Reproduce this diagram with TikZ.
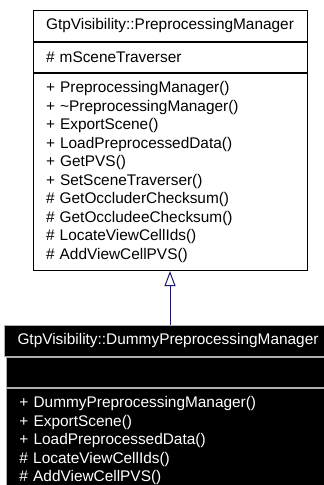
\documentclass[tikz,border=0pt]{standalone}
\usepackage{fontspec}
\setmainfont{Liberation Sans}
\usetikzlibrary{positioning, arrows.meta}
\definecolor{EdgeBlue}{RGB}{25, 25, 112}
\definecolor{RuleGray}{RGB}{175, 175, 175}

\begin{document}
\begin{tikzpicture}[x=1pt, y=-1pt,
    font=\fontsize{15.4}{18.5}\selectfont,
    umlbox/.style={draw, line width=1pt, inner xsep=13pt, inner ysep=0pt},
    basebox/.style={umlbox, fill=white, minimum width=274pt},
    subbox/.style={umlbox, draw=RuleGray, fill=black, text=white, minimum width=323pt},
    basemembers/.style={basebox, align=left, text width=248pt},
    submembers/.style={subbox, align=left, text width=297pt}]
  \useasboundingbox (0,0) rectangle (324,485);
  % Base class
  \node[basebox, anchor=north, minimum height=31pt] (base title) at (170,10)
    {GtpVisibility::PreprocessingManager};
  \node[basemembers, minimum height=30pt, below=0pt of base title] (base attrs)
    {\# mSceneTraverser};
  \node[basemembers, minimum height=197pt, below=0pt of base attrs] (base methods)
    {+ PreprocessingManager()\\
     + \textasciitilde PreprocessingManager()\\
     + ExportScene()\\
     + LoadPreprocessedData()\\
     + GetPVS()\\
     + SetSceneTraverser()\\
     \# GetOccluderChecksum()\\
     \# GetOccludeeChecksum()\\
     \# LocateViewCellIds()\\
     \# AddViewCellPVS()};
  % Derived class
  \node[subbox, anchor=north, minimum height=31pt] (sub title) at (168,325)
    {GtpVisibility::DummyPreprocessingManager};
  \node[submembers, minimum height=30pt, below=0pt of sub title] (sub attrs) {};
  \node[submembers, minimum height=105pt, below=0pt of sub attrs] (sub methods)
    {+ DummyPreprocessingManager()\\
     + ExportScene()\\
     + LoadPreprocessedData()\\
     \# LocateViewCellIds()\\
     \# AddViewCellPVS()};
  % Inheritance
  \draw[EdgeBlue, line width=1pt, -{Triangle[open, length=15pt, width=11pt]}]
    (base methods.south |- sub title.north) -- (base methods.south);
\end{tikzpicture}
\end{document}
